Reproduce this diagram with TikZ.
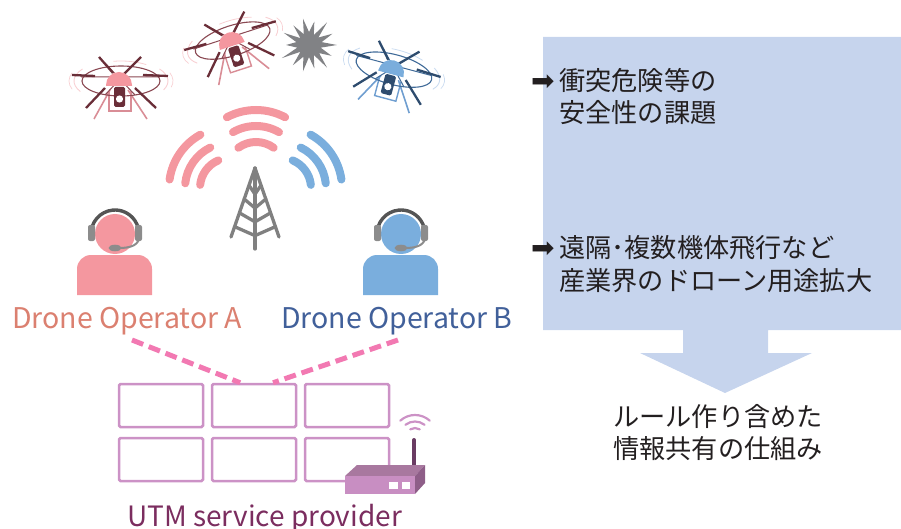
\documentclass[tikz,border=0pt]{standalone}
\usepackage{fontspec}
\setmainfont{Noto Sans CJK JP}
\newfontfamily\arrowfont{DejaVu Sans}
\usetikzlibrary{calc}

\definecolor{opA}{HTML}{F4979F}
\definecolor{opB}{HTML}{7AAEDD}
\definecolor{labA}{HTML}{DB8070}
\definecolor{labB}{HTML}{41609A}
\definecolor{utmtext}{HTML}{7B2D5F}
\definecolor{towergray}{HTML}{808080}
\definecolor{headband}{HTML}{555555}
\definecolor{earpiece}{HTML}{8C8C8C}
\definecolor{linkpink}{HTML}{F279B2}
\definecolor{cellcol}{HTML}{CC92C6}
\definecolor{rtop}{HTML}{A8789F}
\definecolor{rfront}{HTML}{C88EC2}
\definecolor{rside}{HTML}{8E5E88}
\definecolor{rant}{HTML}{6A3C63}
\definecolor{panel}{HTML}{C6D4ED}
\definecolor{jptext}{HTML}{231F20}
\definecolor{burst}{HTML}{818285}
% drone palettes
\definecolor{pdome}{HTML}{F4979F}
\definecolor{pdark}{HTML}{6A2E38}
\definecolor{pring}{HTML}{8A4852}
\definecolor{pleg}{HTML}{D98D96}
\definecolor{pfaint}{HTML}{F8D0D3}
\definecolor{bdome}{HTML}{7AADDC}
\definecolor{bdark}{HTML}{2E4C6E}
\definecolor{bring}{HTML}{3F6A98}
\definecolor{bleg}{HTML}{6F9ED0}
\definecolor{bfaint}{HTML}{CCDDF1}

\tikzset{
  wave/.style={line width=8pt,line cap=round},
  towerline/.style={towergray,line width=3.3pt,line cap=round,line join=round},
  cell/.style={draw=cellcol,line width=2.5pt,rounded corners=1.5pt,
               minimum width=84pt,minimum height=43pt,inner sep=0pt},
  dashlink/.style={linkpink,line width=5pt,dash pattern=on 12pt off 6pt},
  latinlabel/.style={inner sep=0pt,anchor=base west,font=\fontsize{28.5}{34}\selectfont},
  jpline/.style={inner sep=0pt,anchor=base west,text=jptext,font=\fontsize{26.2}{32}\selectfont},
  bullet/.style={inner sep=0pt,anchor=base west,text=jptext,font=\arrowfont\fontsize{28}{32}\selectfont},
}

% one multicopter: #1 position, #2 tilt, #3 canopy, #4 dark parts, #5 ring, #6 legs, #7 rotor blur
\newcommand\drawdrone[7]{%
  \begin{scope}[shift={(#1)},rotate=#2]
    % rotor blur traces
    \draw[#7,line width=0.9pt] (2,-4) ++(150:47 and 21) arc[start angle=150,end angle=215,x radius=47,y radius=21];
    \draw[#7,line width=0.7pt] (2,-4) ++(160:52 and 24) arc[start angle=160,end angle=200,x radius=52,y radius=24];
    \draw[#7,line width=0.9pt] (2,-4) ++(-35:47 and 21) arc[start angle=-35,end angle=25,x radius=47,y radius=21];
    \draw[#7,line width=0.7pt] (2,-4) ++(-20:52 and 24) arc[start angle=-20,end angle=15,x radius=52,y radius=24];
    \draw[#7,line width=0.8pt] (2,-4) ++(-100:44 and 20) arc[start angle=-100,end angle=-55,x radius=44,y radius=20];
    % landing legs and camera cradle
    \draw[#6,line width=1.6pt] (-9,5) -- (-25,34) (9,5) -- (28,34);
    \draw[#6,line width=1.4pt] (-10,6) -- (-10,26) -- (12,26) -- (12,6);
    % rotor ring
    \draw[#5,line width=1.1pt] (2,-4) ellipse[x radius=39,y radius=15];
    % arms
    \draw[#5,line width=1pt] (-38,-8) -- (40,-8) (-14,-22) -- (16,10) (16,-22) -- (-14,10);
    % blades
    \draw[#4,line width=2.3pt] (-47,-10) -- (-24,-9) (24,-10) -- (49,-9)
      (-20,-28) -- (-6,-12) (4,-10) -- (22,-28) (-33,23) -- (-14,3) (16,3) -- (37,23);
    % canopy
    \fill[#3] (-13,1) -- (-13,0) arc[start angle=180,end angle=360,x radius=13,y radius=13] -- (13,1) -- cycle;
    % camera
    \fill[#4,rounded corners=1.5pt] (-5,2) rectangle (6,22);
    \fill[white] (0.5,14) circle[radius=3.6];
  \end{scope}}

\begin{document}
\begin{tikzpicture}[x=1pt,y=-1pt]
\useasboundingbox (0,0) rectangle (901,529);

% ---------- drones and collision burst ----------
\drawdrone{119,85}{0}{pdome}{pdark}{pring}{pleg}{pfaint}
\drawdrone{232,45}{18}{pdome}{pdark}{pring}{pleg}{pfaint}
\drawdrone{391,73}{-15}{bdome}{bdark}{bring}{bleg}{bfaint}

\begin{scope}[shift={(309,45)}]
  \fill[burst] (0:28) \foreach \r [count=\i from 1] in {12,25,13,29,11,24,12,27,13,26,11,30,12,23,13,28,11,25,12,27,13,24,11,29,12,26,13}
    { -- ({\i*360/28}:\r) } -- cycle;
\end{scope}

% ---------- radio waves ----------
\draw[wave,opA] (256,172) ++(-54:30) arc[start angle=-54,end angle=-126,radius=30];
\draw[wave,opA] (256,172) ++(-60:46) arc[start angle=-60,end angle=-120,radius=46];
\draw[wave,opA] (256,172) ++(-62:62) arc[start angle=-62,end angle=-118,radius=62];

\draw[wave,opA] (230,188) ++(-113:30) arc[start angle=-113,end angle=-174,radius=30];
\draw[wave,opA] (230,188) ++(-116:45) arc[start angle=-116,end angle=-174,radius=45];
\draw[wave,opA] (230,188) ++(-119:61) arc[start angle=-119,end angle=-172,radius=61];

\draw[wave,opB] (281,188) ++(-67:30) arc[start angle=-67,end angle=-6,radius=30];
\draw[wave,opB] (281,188) ++(-64:45) arc[start angle=-64,end angle=-6,radius=45];
\draw[wave,opB] (281,188) ++(-61:61) arc[start angle=-61,end angle=-8,radius=61];

% ---------- antenna tower ----------
\draw[towerline] (231,237) -- (255,168) -- (279,237);
\draw[towerline] (255,168) -- (255,249);
\foreach \t in {0.25,0.45,0.65,0.85}
  \draw[towerline] ({255-24*\t},{168+69*\t}) -- (255,{168+69*\t+9}) -- ({255+24*\t},{168+69*\t});

% ---------- operators ----------
\foreach \dx/\col in {0/opA,286/opB}{
  \begin{scope}[xshift=\dx]
    \fill[\col] (77,295) -- (77,269) arc[start angle=180,end angle=270,radius=14]
      -- (138,255) arc[start angle=270,end angle=360,radius=14] -- (152,295) -- cycle;
    \fill[\col] (115,234) circle[radius=20];
    \draw[headband,line width=3.4pt] (115,234) ++(175:24) arc[start angle=175,end angle=365,radius=24];
    \fill[earpiece,rounded corners=2pt] (88,225) rectangle (95,241);
    \fill[earpiece,rounded corners=2pt] (135,225) rectangle (142,241);
    \draw[earpiece,line width=2pt] (139,239) .. controls (137,246) and (129,248) .. (119,248);
    \fill[earpiece] (115,248) ellipse[x radius=6.5,y radius=3.3];
  \end{scope}}

% ---------- labels ----------
\node[latinlabel,text=labA] (labelA) at (12,328) {Drone Operator A};
\node[latinlabel,text=labB] (labelB) at (281,328) {Drone Operator B};
\node[latinlabel,text=utmtext,font=\fontsize{28}{34}\selectfont] (labelUTM) at (127,526) {UTM service provider};

% ---------- UTM display wall ----------
\node[cell] (c11) at (161,405.5) {};
\node[cell] (c12) at (254,405.5) {};
\node[cell] (c13) at (347,405.5) {};
\node[cell] (c21) at (161,459.5) {};
\node[cell] (c22) at (254,459.5) {};
\node[cell] (c23) at (347,459.5) {};

% links from operators to the service provider
\coordinate (linkA) at (132,340);
\coordinate (linkB) at (398,340);
\draw[dashlink] (linkA) -- ($(c12.north west)!0.34!(c12.north east)$);
\draw[dashlink] (linkB) -- ($(c12.north west)!0.72!(c12.north east)$);

% ---------- router ----------
\draw[cellcol,line width=2.2pt,line cap=round] (415,437) ++(-48:22) arc[start angle=-48,end angle=-132,radius=22];
\draw[cellcol,line width=2.2pt,line cap=round] (415,437) ++(-52:15.5) arc[start angle=-52,end angle=-128,radius=15.5];
\draw[cellcol,line width=2.2pt,line cap=round] (415,437) ++(-58:9) arc[start angle=-58,end angle=-122,radius=9];
\draw[rant,line width=4pt,line cap=round] (414,440) -- (414,467);
\fill[rtop] (345,476) -- (357,465) -- (425,465) -- (415,476) -- cycle;
\fill[rfront] (345,476) rectangle (415,494);
\fill[rside] (415,476) -- (425,465) -- (425,483) -- (415,494) -- cycle;
\fill[white] (389,482) rectangle (398,489);
\fill[white] (402,482) rectangle (410,489);

% ---------- right-hand panel ----------
\fill[panel] (543,37) -- (901,37) -- (901,330) -- (768,330) -- (768,353) -- (812,353)
  -- (725,393) -- (640,353) -- (683,353) -- (683,330) -- (543,330) -- cycle;

\node[bullet] (b1) at (531,91) {➡};
\node[jpline] (t1) at (559,91) {衝突危険等の};
\node[jpline] (t2) at (559,123) {安全性の課題};
\node[bullet] (b2) at (531,258) {➡};
\node[jpline] (t3) at (559,258) {遠隔･複数機体飛行など};
\node[jpline] (t4) at (559,290) {産業界のドローン用途拡大};

\node[jpline,anchor=base] (r1) at (718,426) {ルール作り含めた};
\node[jpline,anchor=base] (r2) at (718,458) {情報共有の仕組み};
\end{tikzpicture}
\end{document}
